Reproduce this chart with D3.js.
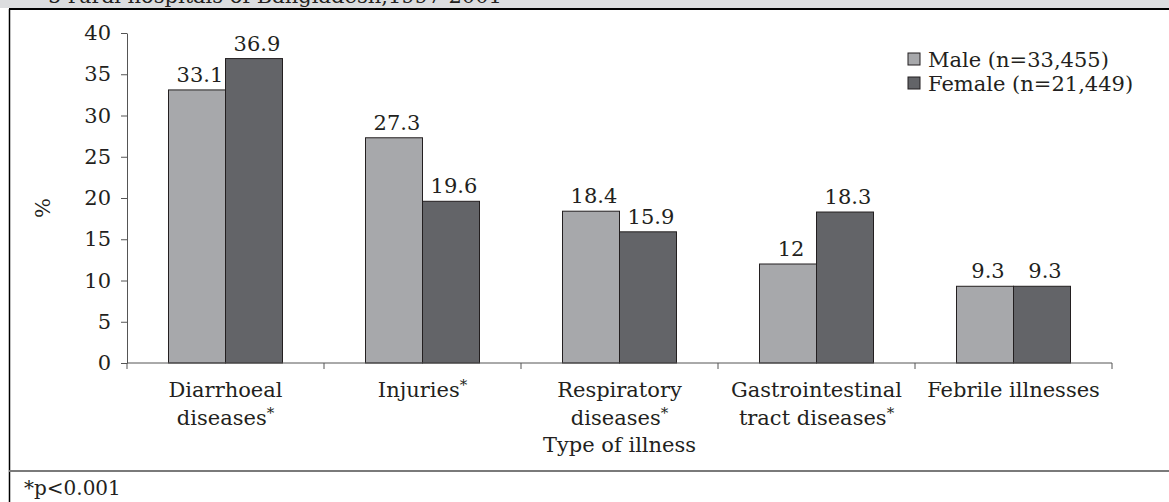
<!DOCTYPE html>
<html>
<head>
<meta charset="utf-8">
<script src="https://cdn.jsdelivr.net/npm/d3@7"></script>
<style>
  html, body { margin: 0; padding: 0; background: #fff; }
  svg text { font-family: "DejaVu Serif", serif; fill: #231f20; }
</style>
</head>
<body>
<svg id="chart" width="1169" height="502"></svg>
<script>
// data
const categories = ['Diarrhoeal diseases', 'Injuries', 'Respiratory diseases', 'Gastrointestinal tract diseases', 'Febrile illnesses']
const catLines = [['Diarrhoeal', 'diseases*'], ['Injuries*'], ['Respiratory', 'diseases*'], ['Gastrointestinal', 'tract diseases*'], ['Febrile illnesses']]
const series = ['Male (n=33,455)', 'Female (n=21,449)']
const male = [33.1, 27.3, 18.4, 12, 9.3]
const female = [36.9, 19.6, 15.9, 18.3, 9.3]
const yTicks = [0, 5, 10, 15, 20, 25, 30, 35, 40]
const colors = ['#a7a8ab', '#636468']

const fs = 21
const svg = d3.select('#chart')

// frame bits: grey title strip, borders
svg.append('rect').attr('x', 0).attr('y', 0).attr('width', 1169).attr('height', 8).attr('fill', '#dcdddf')
svg.append('defs').append('clipPath').attr('id', 'clipTitle')
  .append('rect').attr('x', 0).attr('y', 0).attr('width', 1169).attr('height', 8)
svg.append('text')
  .attr('clip-path', 'url(#clipTitle)')
  .attr('x', 48).attr('y', 3)
  .attr('font-size', fs)
  .text('5 rural hospitals of Bangladesh,1997-2001')
svg.append('line').attr('x1', 9).attr('x2', 1169).attr('y1', 9).attr('y2', 9).attr('stroke', '#000').attr('stroke-width', 2)
svg.append('line').attr('x1', 9.5).attr('x2', 9.5).attr('y1', 9).attr('y2', 502).attr('stroke', '#000').attr('stroke-width', 1.5)
svg.append('line').attr('x1', 9).attr('x2', 1169).attr('y1', 471).attr('y2', 471).attr('stroke', '#7a7a7a').attr('stroke-width', 2)
svg.append('text').attr('x', 24).attr('y', 495).attr('font-size', fs - 1).text('*p<0.001')

const plotL = 127, plotR = 1112, plotT = 33, plotB = 363

const x0 = d3.scaleBand().domain(categories).range([plotL, plotR]).padding(0)
const x1 = d3.scaleBand().domain(series).range([41.5, 155.5])
const y = d3.scaleLinear().domain([0, 40]).range([plotB, plotT])

const rows = categories.map((c, i) => ({cat: c, vals: [male[i], female[i]]}))

const g = svg.append('g')

const groups = g.selectAll('g.grp')
  .data(rows)
  .enter()
  .append('g')
  .attr('class', 'grp')
  .attr('transform', d => 'translate(' + x0(d.cat) + ',0)')

groups.selectAll('rect')
  .data(d => d.vals.map((v, j) => ({s: series[j], v: v, j: j})))
  .enter()
  .append('rect')
  .attr('x', d => x1(d.s))
  .attr('y', d => y(d.v))
  .attr('width', x1.bandwidth())
  .attr('height', d => y(0) - y(d.v))
  .attr('fill', d => colors[d.j])
  .attr('stroke', '#231f20')
  .attr('stroke-width', 1)

groups.selectAll('text.val')
  .data(d => d.vals.map((v, j) => ({s: series[j], v: v})))
  .enter()
  .append('text')
  .attr('class', 'val')
  .attr('x', d => x1(d.s) + x1.bandwidth() / 2 + 3)
  .attr('y', d => y(d.v) - 8)
  .attr('text-anchor', 'middle')
  .attr('font-size', fs)
  .text(d => d.v)

// y axis
const yAxis = g.append('g')
  .attr('transform', 'translate(' + plotL + ',0)')
  .call(d3.axisLeft(y).tickValues(yTicks).tickSize(6).tickSizeOuter(0).tickPadding(10))
yAxis.selectAll('text').attr('font-size', fs).attr('font-family', '"DejaVu Serif", serif').attr('fill', '#231f20')
yAxis.selectAll('line, path').attr('stroke', '#555')

// x axis: ticks at band boundaries
const xAxis = g.append('g').attr('transform', 'translate(0,' + plotB + ')')
xAxis.append('line').attr('x1', plotL).attr('x2', plotR).attr('stroke', '#555')
xAxis.selectAll('line.tk')
  .data(categories.concat(['end']))
  .enter()
  .append('line')
  .attr('class', 'tk')
  .attr('x1', (d, i) => i < categories.length ? x0(d) : plotR)
  .attr('x2', (d, i) => i < categories.length ? x0(d) : plotR)
  .attr('y1', 0).attr('y2', 6)
  .attr('stroke', '#555')

const catText = xAxis.selectAll('text.cat')
  .data(categories)
  .enter()
  .append('text')
  .attr('class', 'cat')
  .attr('text-anchor', 'middle')
  .attr('font-size', fs)
  .attr('transform', d => 'translate(' + (x0(d) + x0.bandwidth() / 2) + ',0)')

catText.selectAll('tspan')
  .data((d, i) => catLines[i].map((t, k) => ({t: t, k: k})))
  .enter()
  .append('tspan')
  .attr('x', 0)
  .attr('y', d => 34 + d.k * 28)
  .each(function (d) {
    const el = d3.select(this)
    if (d.t.endsWith('*')) {
      el.text(d.t.slice(0, -1))
      el.append('tspan').attr('dy', -7).attr('font-size', 15).text('*')
    } else {
      el.text(d.t)
    }
  })

svg.append('text')
  .attr('x', (plotL + plotR) / 2)
  .attr('y', 452)
  .attr('text-anchor', 'middle')
  .attr('font-size', fs)
  .text('Type of illness')

svg.append('text')
  .attr('transform', 'translate(50,208) rotate(-90)')
  .attr('text-anchor', 'middle')
  .attr('font-size', fs)
  .text('%')

// legend
const legend = svg.append('g').attr('transform', 'translate(908,53)')
const li = legend.selectAll('g')
  .data(series)
  .enter()
  .append('g')
  .attr('transform', (d, i) => 'translate(0,' + i * 24 + ')')
li.append('rect').attr('width', 12).attr('height', 12)
  .attr('fill', (d, i) => colors[i]).attr('stroke', '#231f20').attr('stroke-width', 1)
li.append('text').attr('x', 20).attr('y', 14).attr('font-size', fs).text(d => d)
</script>
</body>
</html>
